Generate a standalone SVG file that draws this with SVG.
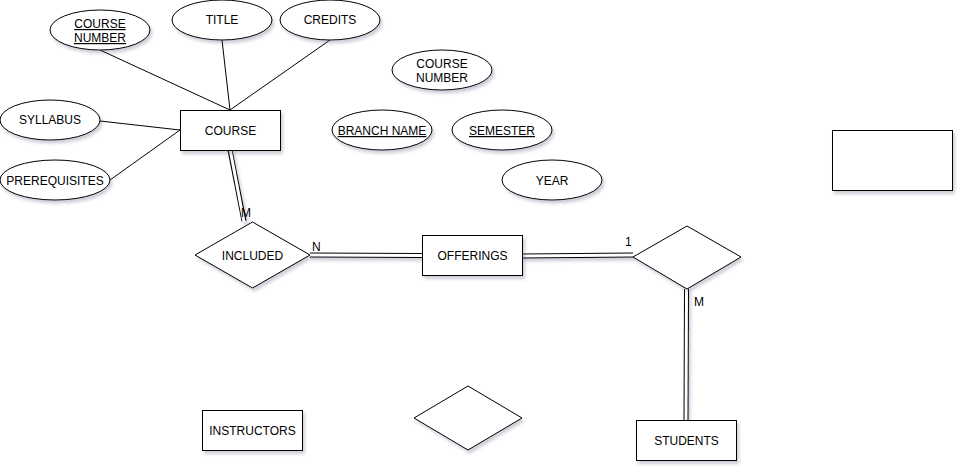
<svg xmlns="http://www.w3.org/2000/svg" width="964" height="472" viewBox="0 0 964 472">
<defs>
<filter id="sh" x="-20%" y="-20%" width="150%" height="160%">
<feDropShadow dx="2" dy="3" stdDeviation="1.5" flood-color="#3c3c64" flood-opacity="0.25"/>
</filter>
</defs>
<style>
.s{fill:#fff;stroke:#000;stroke-width:1;filter:url(#sh)}
.t{font-family:"Liberation Sans",Arial,sans-serif;font-size:12px;fill:#000;text-anchor:middle}
.u{text-decoration:underline}
.l{fill:none;stroke:#000;stroke-width:1}
.dbo{fill:none;stroke:#000;stroke-width:5}
.dbi{fill:none;stroke:#fff;stroke-width:3}
.lb{font-family:"Liberation Sans",Arial,sans-serif;font-size:12px;fill:#000}
</style>
<rect width="964" height="472" fill="#fff"/>
<g id="connectors">
<line class="l" x1="100" y1="50" x2="230" y2="110"/>
<line class="l" x1="222" y1="40" x2="230" y2="110"/>
<line class="l" x1="330" y1="40" x2="230" y2="110"/>
<line class="l" x1="100" y1="121" x2="180" y2="130"/>
<line class="l" x1="110" y1="180" x2="180" y2="130"/>
<g filter="url(#sh)">
<line class="dbo" x1="230" y1="150" x2="244" y2="221"/>
<line class="dbi" x1="230" y1="149" x2="244" y2="222"/>
<line class="dbo" x1="310" y1="255" x2="422" y2="255.5"/>
<line class="dbi" x1="309" y1="255" x2="423" y2="255.5"/>
<line class="dbo" x1="522" y1="256" x2="633" y2="255"/>
<line class="dbi" x1="521" y1="256" x2="634" y2="255"/>
<line class="dbo" x1="686.5" y1="289" x2="686" y2="420"/>
<line class="dbi" x1="686.5" y1="288" x2="686" y2="421"/>
</g>
<text class="lb" x="241" y="217">M</text>
<text class="lb" x="312" y="251">N</text>
<text class="lb" x="625" y="246">1</text>
<text class="lb" x="694" y="306">M</text>
</g>
<g id="course-number"><ellipse class="s" cx="100" cy="30" rx="50" ry="20"/><text class="t u" x="100" y="28">COURSE</text><text class="t u" x="100" y="42">NUMBER</text></g>
<g id="title"><ellipse class="s" cx="222" cy="20" rx="50" ry="20"/><text class="t" x="222" y="24">TITLE</text></g>
<g id="credits"><ellipse class="s" cx="330" cy="20" rx="50" ry="20"/><text class="t" x="330" y="24">CREDITS</text></g>
<g id="syllabus"><ellipse class="s" cx="50" cy="120" rx="50" ry="20"/><text class="t" x="50" y="124">SYLLABUS</text></g>
<g id="prerequisites"><ellipse class="s" cx="55" cy="180" rx="55" ry="20"/><text class="t" x="55" y="185">PREREQUISITES</text></g>
<g id="course"><rect class="s" x="180.5" y="110.5" width="100" height="40"/><text class="t" x="230.5" y="135">COURSE</text></g>
<g id="course-number-2"><ellipse class="s" cx="442" cy="70" rx="50" ry="20"/><text class="t" x="442" y="68">COURSE</text><text class="t" x="442" y="82">NUMBER</text></g>
<g id="branch-name"><ellipse class="s" cx="382" cy="130" rx="50" ry="20"/><text class="t u" x="382" y="135">BRANCH NAME</text></g>
<g id="semester"><ellipse class="s" cx="502" cy="130" rx="50" ry="20"/><text class="t u" x="502" y="135">SEMESTER</text></g>
<g id="year"><ellipse class="s" cx="552" cy="180" rx="50" ry="20"/><text class="t" x="552" y="185">YEAR</text></g>
<g id="blank-entity"><rect class="s" x="832.5" y="130.5" width="120" height="60"/></g>
<g id="included"><polygon class="s" points="195,255 252.5,222 310,255 252.5,288"/><text class="t" x="252.5" y="260">INCLUDED</text></g>
<g id="offerings"><rect class="s" x="422.5" y="235.5" width="100" height="40"/><text class="t" x="472.5" y="260">OFFERINGS</text></g>
<g id="relationship-1"><polygon class="s" points="633,257 687,226 741,257 687,289"/></g>
<g id="instructors"><rect class="s" x="202.5" y="410.5" width="100" height="40"/><text class="t" x="252.5" y="435">INSTRUCTORS</text></g>
<g id="relationship-2"><polygon class="s" points="414,418 468,386 522,418 468,450"/></g>
<g id="students"><rect class="s" x="636.5" y="420.5" width="100" height="40"/><text class="t" x="686.5" y="445">STUDENTS</text></g>
</svg>
